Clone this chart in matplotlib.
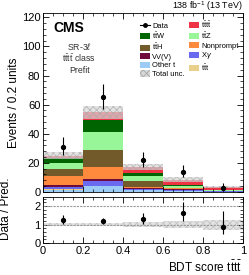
import matplotlib
matplotlib.use('Agg')
import matplotlib.pyplot as plt
import numpy as np
from matplotlib.ticker import AutoMinorLocator, MultipleLocator
from matplotlib.patches import Patch
from matplotlib.lines import Line2D

plt.rcParams['font.family'] = ['Liberation Sans', 'DejaVu Sans']
plt.rcParams['mathtext.fontset'] = 'custom'
plt.rcParams['mathtext.rm'] = 'Liberation Sans'
plt.rcParams['mathtext.it'] = 'Liberation Sans:italic'
plt.rcParams['hatch.linewidth'] = 0.6

# bins of BDT score
edges = [0.0, 0.2, 0.4, 0.6, 0.8, 1.0]

# stacked backgrounds, bottom to top
othert = [1.6, 3.9, 1.0, 0.6, 0.1]
ttt    = [0.2, 0.3, 0.2, 0.1, 0.1]
xgamma = [1.8, 3.4, 0.9, 0.8, 0.15]
vvv    = [1.0, 1.2, 0.4, 0.3, 0.05]
nonpr  = [6.4, 8.5, 1.0, 0.6, 0.2]
tth    = [4.6, 11.7, 4.3, 0.5, 0.3]
ttz    = [4.6, 12.4, 3.5, 1.2, 0.3]
ttw    = [3.0, 8.3, 2.0, 0.4, 0.1]
tttt   = [1.8, 5.0, 3.6, 4.0, 2.1]

rel_unc = [0.09, 0.08, 0.12, 0.18, 0.27]

data = [31, 65, 22, 14, 3]
data_lo = [5.5, 8.0, 4.6, 3.9, 1.4]
data_hi = [6.6, 9.0, 5.7, 4.8, 2.9]

procs = [
    (othert, '#9ccbf5', 'Other t'),
    (ttt, '#e8d08a', r'$\mathrm{t\bar{t}t}$'),
    (xgamma, '#6a6af0', r'X$\gamma$'),
    (vvv, '#6e0b3a', 'VV(V)'),
    (nonpr, '#ff8a3d', 'Nonprompt'),
    (tth, '#725a2a', r'$\mathrm{t\bar{t}H}$'),
    (ttz, '#98f598', r'$\mathrm{t\bar{t}Z}$'),
    (ttw, '#006400', r'$\mathrm{t\bar{t}W}$'),
    (tttt, '#ee3344', r'$\mathrm{t\bar{t}t\bar{t}}$'),
]

x0 = np.array(edges[:-1])
w = np.diff(edges)
xc = x0 + w / 2

fig = plt.figure(figsize=(2.49, 2.75), dpi=100)
ax = fig.add_axes([0.173, 0.302, 0.803, 0.651])
rx = fig.add_axes([0.173, 0.116, 0.803, 0.168])

bottom = np.zeros(5)
for vals, col, lab in procs:
    v = np.array(vals)
    ax.bar(x0, v, w, bottom=bottom, align='edge', color=col, lw=0)
    bottom += v
total = bottom
unc = total * np.array(rel_unc)
ax.bar(x0, 2 * unc, w, bottom=total - unc, align='edge', facecolor='#d8d8d8',
       alpha=0.7, hatch='xxxxx', edgecolor='#a8a8a8', lw=0)

ax.errorbar(xc, data, yerr=[data_lo, data_hi], fmt='o', color='black',
            ms=2.8, elinewidth=0.8, capsize=0)

ax.set_xlim(0, 1)
ax.set_ylim(0, 123)
ax.yaxis.set_major_locator(MultipleLocator(20))
ax.yaxis.set_minor_locator(AutoMinorLocator(5))
ax.xaxis.set_major_locator(MultipleLocator(0.2))
ax.xaxis.set_minor_locator(AutoMinorLocator(4))
ax.set_xticklabels([])
ax.set_ylabel('Events / 0.2 units', fontsize=8.5, labelpad=1)

for a in (ax, rx):
    a.tick_params(which='both', direction='in', top=True, right=True, labelsize=8, pad=2)
    a.tick_params(which='major', length=4, width=0.6)
    a.tick_params(which='minor', length=2, width=0.5)
    for s in a.spines.values():
        s.set_linewidth(0.6)

ax.text(0.05, 0.955, 'CMS', transform=ax.transAxes, fontsize=10, fontweight='bold',
        va='top', ha='left')
for yy, s in [(0.81, 'SR-3$\\ell$'), (0.745, r'$\mathrm{t\bar{t}t\bar{t}}$ class'),
              (0.68, 'Prefit')]:
    ax.text(0.18, yy, s, transform=ax.transAxes, fontsize=6.3, ha='center',
            va='center', color='#333333')
ax.annotate(r'138 fb$^{-1}$ (13 TeV)', xy=(1.0, 1.0), xycoords='axes fraction',
            xytext=(0, 3), textcoords='offset points', fontsize=6.4,
            ha='right', va='baseline')

def h(i):
    return Patch(facecolor=procs[i][1], edgecolor='none', label=procs[i][2])

hdata = Line2D([], [], marker='o', color='black', ms=2.5, lw=0.8, label='Data')
hunc = Patch(facecolor='#d8d8d8', hatch='xxxxx', edgecolor='#a8a8a8', lw=0,
             label='Total unc.')
handles = [hdata, h(7), h(5), h(3), h(0), hunc,
           h(8), h(6), h(4), h(2), h(1)]
leg = ax.legend(handles=handles, ncol=2, loc='upper right', fontsize=5.4,
                frameon=False, handlelength=1.3, handleheight=0.9,
                handletextpad=0.3, columnspacing=0.6, labelspacing=0.12,
                bbox_to_anchor=(1.0, 0.99), borderaxespad=0.2)

ratio = np.array(data) / total
r_lo = np.array(data_lo) / total
r_hi = np.array(data_hi) / total
rx.bar(x0, 2 * np.array(rel_unc), w, bottom=1 - np.array(rel_unc), align='edge',
       facecolor='#d8d8d8', alpha=0.7, hatch='xxxxx', edgecolor='#b8b8b8', lw=0)
rx.axhline(1, color='#999999', ls=(0, (2, 1)), lw=0.8)
rx.axhline(2, color='#999999', ls=(0, (2, 1)), lw=0.8)
rx.errorbar(xc, ratio, yerr=[r_lo, r_hi], fmt='o', color='black', ms=2.8,
            elinewidth=0.8, capsize=0)
rx.set_xlim(0, 1)
rx.set_ylim(0, 2.5)
rx.yaxis.set_major_locator(MultipleLocator(1))
rx.yaxis.set_minor_locator(AutoMinorLocator(5))
rx.xaxis.set_major_locator(MultipleLocator(0.2))
rx.xaxis.set_minor_locator(AutoMinorLocator(4))
rx.set_xticks([0, 0.2, 0.4, 0.6, 0.8, 1.0])
rx.set_xticklabels(['0', '0.2', '0.4', '0.6', '0.8', '1'])
rx.set_ylabel('Data / Pred.', fontsize=8.5)
rx.yaxis.set_label_coords(-0.155, 0.75)
rx.set_xlabel(r'BDT score $\mathrm{t\bar{t}t\bar{t}}$', fontsize=8.5, loc='right', labelpad=3)

fig.savefig('out.png', dpi=100)
